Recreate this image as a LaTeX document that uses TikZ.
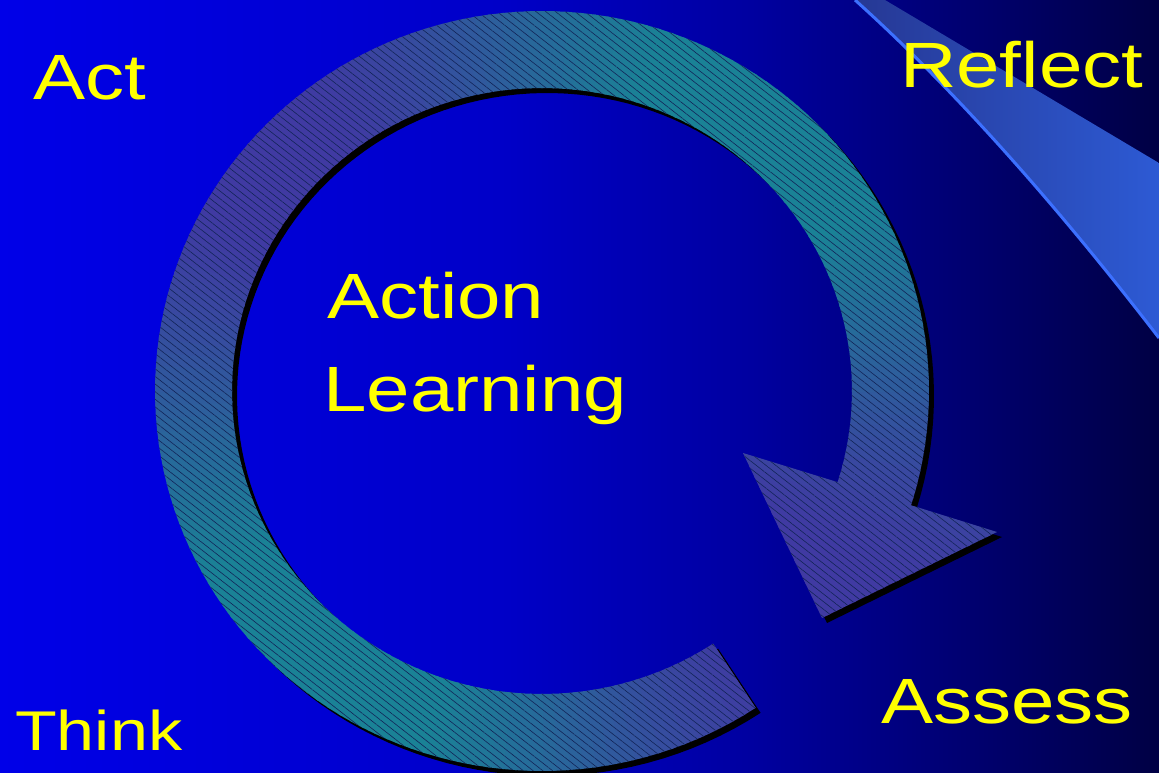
\documentclass[tikz,border=0pt]{standalone}
\usepackage{fontspec}
\usetikzlibrary{patterns.meta}
\newfontfamily\slidefont[FakeStretch=1.22]{Liberation Sans}

% palette
\definecolor{bgA}{RGB}{0,0,232}
\definecolor{bgB}{RGB}{0,0,200}
\definecolor{bgC}{RGB}{0,0,160}
\definecolor{bgD}{RGB}{0,0,105}
\definecolor{bgE}{RGB}{0,0,68}
\definecolor{ribbonL}{RGB}{38,56,148}
\definecolor{ribbonR}{RGB}{45,90,212}
\definecolor{ribbonEdge}{RGB}{60,112,255}
\definecolor{ringPurple}{RGB}{64,58,162}
\definecolor{ringTeal}{RGB}{26,130,150}
\definecolor{ringHatch}{RGB}{18,36,88}
\definecolor{textYellow}{RGB}{255,255,0}

% slide background: blue fading to navy from left to right
\pgfdeclarehorizontalshading{slidebg}{100bp}{color(0bp)=(bgA); color(25bp)=(bgA);
  color(46.6bp)=(bgB); color(57.4bp)=(bgC); color(68.1bp)=(bgD); color(75bp)=(bgE);
  color(100bp)=(bgE)}

% outline of the circular arrow: outer rim, arrow head, inner rim
\newcommand\ringoutline{%
  plot[domain=56.5:377.5, samples=140, variable=\t]
      ({542+387*cos(\t)}, {391+380*sin(\t)})
  -- (997,532) -- (822,618) -- (743,453)
  -- plot[domain=377.5:56.5, samples=140, variable=\t]
      ({542+310*cos(\t)}, {391+303*sin(\t)})
  -- cycle}

\tikzset{
  slidetext/.style={text=textYellow, inner sep=0pt, anchor=base west,
    font=\slidefont\fontsize{64}{76}\selectfont},
  smalltext/.style={slidetext, font=\slidefont\fontsize{56}{66}\selectfont},
}

\begin{document}
\begin{tikzpicture}[x=1pt, y=-1pt]
  \useasboundingbox (0,0) rectangle (1159,773);

  % background
  \shade[shading=slidebg] (0,0) rectangle (1159,773);

  % ribbon in the upper right corner
  \shade[left color=ribbonL, right color=ribbonR]
    (855,0) .. controls (955,90) and (1059,208) .. (1159,338)
    -- (1159,163) -- (885,0) -- cycle;
  \draw[ribbonEdge, line width=3pt]
    (855,0) .. controls (955,90) and (1059,208) .. (1159,338);

  % drop shadow of the circular arrow
  \begin{scope}[shift={(5,5)}]
    \fill[black] \ringoutline;
  \end{scope}

  % circular arrow: colour varies with the angle around the centre
  \coordinate (ringcentre) at (542,391);
  \begin{scope}
    \clip \ringoutline;
    \foreach \a in {0,2,...,358}{
      \pgfmathsetmacro\w{100*min(1,max(0,0.45+0.6*cos(2*(\a+1-40))))}
      \fill[ringPurple!\w!ringTeal]
        (ringcentre) -- ++({720*cos(\a-0.2)},{720*sin(\a-0.2)})
        -- ++({720*cos(\a+2.2)-720*cos(\a-0.2)},{720*sin(\a+2.2)-720*sin(\a-0.2)})
        -- cycle;
    }
  \end{scope}
  % fine hatching over the arrow
  \path[pattern={Lines[angle=-38, distance=6pt, line width=0.6pt]},
        pattern color=ringHatch, fill opacity=0.22] \ringoutline;

  % labels
  \node[slidetext] (act) at (33,100) {Act};
  \node[slidetext] (reflect) at (900,88) {Reflect};
  \node[slidetext] (action) at (327,318) {Action};
  \node[slidetext] (learning) at (323,411) {Learning};
  \node[smalltext] (think) at (15,750) {Think};
  \node[slidetext] (assess) at (881,723) {Assess};
\end{tikzpicture}
\end{document}
